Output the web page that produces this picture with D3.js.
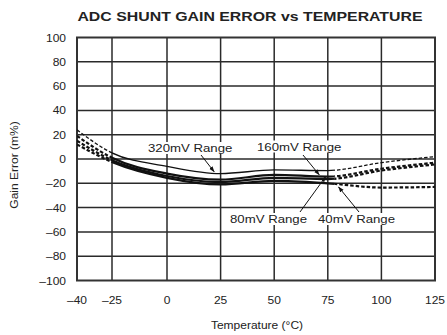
<!DOCTYPE html>
<html>
<head>
<meta charset="utf-8">
<script src="https://cdn.jsdelivr.net/npm/d3@7"></script>
<style>
  html, body { margin: 0; padding: 0; background: #fff; }
  svg text { font-family: "Liberation Sans", Arial, Helvetica, sans-serif; fill: #222; }
</style>
</head>
<body>
<svg id="chart" width="447" height="335"></svg>
<script>
// Temperature sample points (°C)
const temps = [-40, -25, 0, 25, 50, 75, 100, 125];

// Gain error (m%) for each shunt range
const err320 = [24, 5, -6, -12, -9, -9.5, -3, 2];
const err160 = [19, 1, -12, -17, -13, -14.5, -8, -3];
const err80  = [15, -1, -14, -19, -15.5, -16.5, -9.5, -4.5];
const err40  = [12, -2.5, -15.5, -21, -18, -20, -23.5, -23];

const seriesNames = ["320mV Range", "160mV Range", "80mV Range", "40mV Range"];

// Axis ticks
const xTicks = [-40, -25, 0, 25, 50, 75, 100, 125];
const yTicks = [-100, -80, -60, -40, -20, 0, 20, 40, 60, 80, 100];

// Range measured directly (solid); outside it the curves are extrapolated (dashed)
const solidSpan = [-25, 78];

const svg = d3.select("#chart");
const plotL = 77, plotR = 435, plotT = 37.5, plotB = 280.5;

const x = d3.scaleLinear()
  .domain([-40, -25, 0, 125])
  .range([plotL, 112, 167, plotR]);
const y = d3.scaleLinear().domain([-100, 100]).range([plotB, plotT]);

const fmt = v => (v < 0 ? "\u2013" + Math.abs(v) : String(v));

// Stretch text horizontally to the wide face used on the sheet
function widen(sel, k) {
  sel.each(function () {
    const w = this.getComputedTextLength();
    d3.select(this).attr("textLength", w * k).attr("lengthAdjust", "spacingAndGlyphs");
  });
}

// Title
svg.append("text")
  .attr("x", 250).attr("y", 21)
  .attr("text-anchor", "middle")
  .attr("font-size", 13)
  .attr("font-weight", "bold")
  .text("ADC SHUNT GAIN ERROR vs TEMPERATURE")
  .call(widen, 1.22);

// Grid
const grid = svg.append("g").attr("stroke", "#2a2a2a").attr("stroke-width", 1.5);
grid.selectAll("line.h").data(yTicks.slice(1, -1)).join("line")
  .attr("class", "h")
  .attr("x1", plotL).attr("x2", plotR)
  .attr("y1", d => y(d)).attr("y2", d => y(d));
grid.selectAll("line.v").data(xTicks.slice(1, -1)).join("line")
  .attr("class", "v")
  .attr("y1", plotT).attr("y2", plotB)
  .attr("x1", d => x(d)).attr("x2", d => x(d));

// Frame
svg.append("rect")
  .attr("x", plotL).attr("y", plotT)
  .attr("width", plotR - plotL).attr("height", plotB - plotT)
  .attr("fill", "none").attr("stroke", "#333").attr("stroke-width", 2);

// Tick labels
svg.append("g").selectAll("text").data(yTicks).join("text")
  .attr("x", 66).attr("y", d => y(d) + 4)
  .attr("text-anchor", "end")
  .attr("font-size", 10)
  .text(fmt)
  .call(widen, 1.2);

svg.append("g").selectAll("text").data(xTicks).join("text")
  .attr("x", d => x(d)).attr("y", 304)
  .attr("text-anchor", "middle")
  .attr("font-size", 10)
  .text(fmt)
  .call(widen, 1.2);

// Axis titles
svg.append("text")
  .attr("x", 257).attr("y", 329)
  .attr("text-anchor", "middle")
  .attr("font-size", 10)
  .text("Temperature (\u00B0C)")
  .call(widen, 1.2);

svg.append("text")
  .attr("transform", "translate(18,165) rotate(-90)")
  .attr("text-anchor", "middle")
  .attr("font-size", 10)
  .text("Gain Error (m%)")
  .call(widen, 1.2);

// Curves
const defs = svg.append("defs");
defs.append("clipPath").attr("id", "clip-solid").append("rect")
  .attr("x", x(solidSpan[0])).attr("y", plotT)
  .attr("width", x(solidSpan[1]) - x(solidSpan[0])).attr("height", plotB - plotT);
const dashClip = defs.append("clipPath").attr("id", "clip-dash");
dashClip.append("rect")
  .attr("x", plotL).attr("y", plotT)
  .attr("width", x(solidSpan[0]) - plotL).attr("height", plotB - plotT);
dashClip.append("rect")
  .attr("x", x(solidSpan[1])).attr("y", plotT)
  .attr("width", plotR - x(solidSpan[1])).attr("height", plotB - plotT);

const series = [err320, err160, err80, err40].map((vals, i) => ({
  name: seriesNames[i],
  points: temps.map((t, j) => [t, vals[j]]),
  width: i === 0 ? 1.3 : 2.2
}));

const line = d3.line()
  .x(d => x(d[0])).y(d => y(d[1]))
  .curve(d3.curveMonotoneX);

const curves = svg.append("g").attr("fill", "none").attr("stroke", "#111");
series.forEach(s => {
  curves.append("path")
    .attr("d", line(s.points))
    .attr("stroke-width", s.width)
    .attr("clip-path", "url(#clip-solid)");
  curves.append("path")
    .attr("d", line(s.points))
    .attr("stroke-width", s.width)
    .attr("stroke-dasharray", "3.5,2")
    .attr("clip-path", "url(#clip-dash)");
});

// Callouts
defs.append("marker")
  .attr("id", "head")
  .attr("viewBox", "0 0 10 10")
  .attr("refX", 9).attr("refY", 5)
  .attr("markerWidth", 6).attr("markerHeight", 6)
  .attr("orient", "auto")
  .append("path").attr("d", "M0,1.5 L10,5 L0,8.5 Z").attr("fill", "#111");

// label anchor, arrow tail and arrow tip (temperature, value) for each range
const calloutLabels = [
  { name: seriesNames[0], lx: 148, ly: 152, from: [201, 155], to: [22, -10.5] },
  { name: seriesNames[1], lx: 257, ly: 150.5, from: [303, 155], to: [71, -13] },
  { name: seriesNames[2], lx: 230, ly: 223, from: [300, 212], to: [74, -14.5] },
  { name: seriesNames[3], lx: 318, ly: 223, from: [359, 212], to: [80, -23] }
];

const callouts = svg.append("g");
const labels = callouts.selectAll("text").data(calloutLabels).join("text")
  .attr("x", d => d.lx).attr("y", d => d.ly)
  .attr("font-size", 11)
  .text(d => d.name)
  .call(widen, 1.2);
// white backing behind each label so grid lines do not run through it
labels.each(function (d) {
  const b = this.getBBox();
  callouts.insert("rect", "text")
    .attr("x", b.x - 1).attr("y", b.y)
    .attr("width", b.width + 2).attr("height", b.height)
    .attr("fill", "#fff");
});
callouts.selectAll("line").data(calloutLabels).join("line")
  .attr("x1", d => d.from[0]).attr("y1", d => d.from[1])
  .attr("x2", d => x(d.to[0])).attr("y2", d => y(d.to[1]))
  .attr("stroke", "#111").attr("stroke-width", 1)
  .attr("marker-end", "url(#head)");
</script>
</body>
</html>
